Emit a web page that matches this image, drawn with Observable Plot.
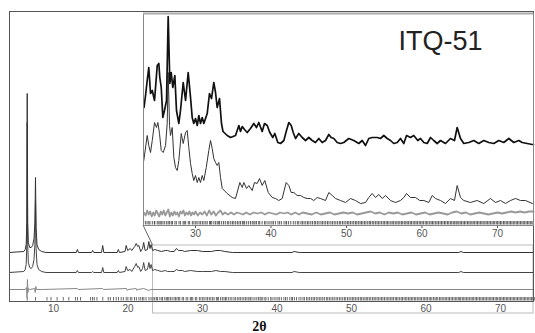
<!DOCTYPE html>
<html><head><meta charset="utf-8">
<script src="https://cdn.jsdelivr.net/npm/d3@7"></script>
<script src="https://cdn.jsdelivr.net/npm/@observablehq/plot@0.6"></script>
<style>
body{margin:0;background:#fff}
#wrap{position:relative;width:535px;height:333px;overflow:hidden;background:#fff}
#wrap svg{position:absolute;overflow:visible}
</style>
</head><body><div id="wrap"></div>
<script>
// ---- data (2θ, intensity) ----
const mainTicks = [10, 20, 30, 40, 50, 60, 70];
const insetTicks = [30, 40, 50, 60, 70];
const mainDomain = [4.09, 74.43];
const insetDomain = [23.11, 74.77];
const zoomRange = [23.36, 74.43];

const mainObs = [[4.09,0],[6.0,1],[6.2,3],[6.33,8],[6.42,30],[6.47,159],[6.53,30],[6.62,10],[6.8,5],[7.0,5],[7.2,7],[7.38,14],[7.5,30],[7.58,75],[7.66,25],[7.78,8],[8.0,3],[8.4,1],[9.0,0],[13.05,0],[13.2,3],[13.35,0],[15.1,0],[15.25,2],[15.4,0],[16.45,0],[16.6,7],[16.75,0],[18.55,0],[18.7,3],[18.85,0],[19.6,1],[19.75,7],[19.95,2],[20.3,4],[20.5,2],[20.9,6],[21.1,9],[21.3,6],[21.45,7],[21.7,1],[21.95,4],[22.1,10],[22.3,2],[22.6,3],[22.8,11],[22.95,4],[23.1,8],[23.3,2],[23.6,3],[24.0,2],[24.5,1],[25.0,2],[25.3,2],[25.7,1],[26.2,1],[26.5,4],[26.8,2],[27.3,2],[27.6,1],[28.4,2],[29.3,2],[30,1],[31.2,1],[31.8,2],[32.4,2],[33,1],[34,0],[42.0,0],[42.3,1],[43,0],[64.4,0],[64.7,1],[65,0],[74.43,0]];
const mainCalc = [[4.09,0],[6.0,1],[6.2,3],[6.33,8],[6.42,28],[6.47,150],[6.53,28],[6.62,10],[6.8,5],[7.0,4],[7.2,6],[7.38,13],[7.5,28],[7.58,72],[7.66,24],[7.78,8],[8.0,3],[8.4,1],[9.0,0],[13.05,0],[13.2,2],[13.35,0],[15.1,0],[15.25,1],[15.4,0],[16.45,0],[16.6,5],[16.75,0],[18.55,0],[18.7,2],[18.85,0],[19.6,1],[19.75,6],[19.95,2],[20.3,3],[20.5,1],[20.9,6],[21.1,9],[21.3,5],[21.45,6],[21.7,1],[21.95,4],[22.1,10],[22.3,2],[22.6,3],[22.8,10],[22.95,4],[23.1,8],[23.3,2],[23.6,3],[24.0,2],[24.5,1],[25.0,2],[25.3,1],[25.7,1],[26.2,1],[26.5,3],[26.8,2],[27.3,2],[27.6,1],[28.4,2],[29.3,1],[30,1],[31.2,1],[31.8,2],[32.4,1],[33,1],[34,0],[42.0,0],[42.3,1],[43,0],[64.4,0],[64.7,1],[65,0],[74.43,0]];
const mainDiff = [[4.09,0],[6.2,0],[6.38,2],[6.44,-8],[6.5,10],[6.56,-3],[6.65,1],[6.8,0],[7.45,1],[7.55,-3],[7.63,3],[7.72,0],[8.5,0],[13.2,1],[13.3,0],[16.6,1],[16.7,0],[19.8,1],[19.9,-1],[20,0],[21.1,1],[21.2,-1],[21.3,0],[22.1,1],[22.8,-1],[23,0],[74.43,0]];

const insetObs = [[23.18,36],[23.38,48],[23.60,63],[23.81,76],[24.04,50],[24.27,53],[24.57,43],[24.93,78],[25.14,80],[25.27,66],[25.46,56],[25.67,26],[25.89,33],[26.16,43],[26.38,127],[26.60,60],[26.78,71],[26.99,56],[27.26,68],[27.48,33],[27.79,20],[28.01,33],[28.37,61],[28.68,43],[29.03,71],[29.34,46],[29.56,26],[29.77,20],[30.00,25],[30.23,18],[30.44,28],[30.66,20],[30.89,26],[31.10,20],[31.55,30],[31.85,50],[32.12,45],[32.42,61],[32.65,51],[32.87,36],[33.18,45],[33.44,20],[33.64,12],[34.20,8],[34.64,6],[35.30,8],[35.74,18],[35.96,12],[36.19,17],[36.49,14],[36.85,11],[37.28,15],[37.72,20],[38.08,16],[38.38,21],[38.83,12],[39.14,20],[39.50,18],[39.84,11],[40.24,6],[40.50,10],[40.90,1],[41.26,0],[41.70,3],[42.05,13],[42.36,21],[42.68,18],[42.94,11],[43.25,5],[43.68,10],[44.13,6],[44.57,3],[45.01,6],[45.46,3],[45.89,1],[46.33,5],[46.78,1],[47.22,3],[47.66,9],[47.97,6],[48.32,5],[48.77,1],[49.21,0],[49.64,1],[50.30,5],[50.97,3],[51.63,0],[52.08,3],[52.52,-2],[52.95,5],[53.40,6],[54.07,6],[54.50,5],[54.94,8],[55.39,5],[55.83,3],[56.26,0],[56.72,1],[57.15,5],[57.59,0],[57.95,8],[58.48,6],[58.91,8],[59.44,3],[59.80,5],[60.24,1],[60.69,0],[61.13,6],[61.56,3],[62.01,0],[62.45,3],[63.11,0],[63.77,5],[64.30,3],[64.66,16],[65.10,5],[65.54,0],[66.20,1],[66.86,3],[67.52,0],[68.19,3],[68.85,1],[69.51,0],[70.17,3],[70.83,1],[71.50,5],[72.16,1],[72.82,3],[73.27,1],[73.93,0],[74.60,-1],[74.77,-1]];
const insetCalc = [[23.15,40],[23.60,65],[23.81,55],[24.04,48],[24.27,60],[24.57,78],[24.83,73],[25.01,78],[25.23,67],[25.46,50],[25.72,48],[26.03,55],[26.25,77],[26.38,128],[26.56,75],[26.69,65],[26.91,73],[27.13,43],[27.35,33],[27.58,30],[27.79,40],[28.11,67],[28.37,57],[28.68,68],[28.90,70],[29.11,53],[29.34,37],[29.56,27],[29.77,20],[30.00,25],[30.23,18],[30.44,23],[30.66,18],[30.89,25],[31.10,20],[31.42,33],[31.76,50],[31.99,60],[32.21,52],[32.42,42],[32.65,38],[32.87,35],[33.09,38],[33.31,23],[33.54,12],[34.20,7],[34.86,3],[35.30,2],[35.87,18],[36.19,13],[36.40,18],[36.76,12],[37.06,15],[37.51,10],[37.81,18],[38.17,17],[38.48,22],[38.83,15],[39.18,20],[39.63,8],[40.16,3],[40.60,2],[41.03,0],[41.48,2],[42.01,18],[42.36,15],[42.68,8],[43.02,8],[43.47,5],[43.91,5],[44.34,3],[44.79,2],[45.23,2],[45.67,0],[46.12,3],[46.56,2],[47.22,0],[47.66,8],[48.11,5],[48.54,2],[49.21,0],[49.87,-2],[50.53,2],[51.19,0],[51.85,-3],[52.52,-2],[52.95,3],[53.40,7],[53.84,3],[54.28,6],[54.73,2],[55.17,5],[55.83,0],[56.49,-2],[57.15,0],[57.59,3],[57.95,7],[58.48,3],[59.14,3],[59.71,0],[60.24,0],[60.90,-2],[61.35,5],[61.79,2],[62.45,0],[63.11,-3],[63.77,2],[64.30,0],[64.66,15],[65.10,3],[65.54,0],[66.42,-2],[67.31,0],[68.19,-3],[69.07,2],[69.74,-2],[70.40,0],[71.06,-3],[71.72,0],[72.38,2],[73.05,0],[73.71,0],[74.60,-3],[74.77,-3]];
const insetDiff = [[23.15,1],[23.4,-2],[23.6,3],[23.8,-1],[24.0,2],[24.2,-3],[24.4,1],[24.6,-2],[24.8,3],[25.0,0],[25.2,-3],[25.4,2],[25.6,-1],[25.8,3],[26.0,-2],[26.2,1],[26.4,4],[26.6,-3],[26.8,1],[27.0,-2],[27.2,2],[27.4,-1],[27.6,1],[27.8,-3],[28.0,2],[28.2,0],[28.4,3],[28.6,-2],[28.8,1],[29.0,-1],[29.2,2],[29.4,-2],[29.6,1],[29.8,-1],[30.0,2],[30.3,-2],[30.6,1],[30.9,-1],[31.2,2],[31.5,-2],[31.8,3],[32.1,-1],[32.4,2],[32.7,-2],[33.0,1],[33.3,3],[33.6,-1],[33.9,1],[34.3,-1],[34.7,1],[35.1,-1],[35.5,1],[35.9,0],[36.3,-1],[36.7,1],[37.2,-1],[37.7,1],[38.2,0],[38.7,1],[39.2,-1],[39.7,1],[40.2,0],[40.7,-1],[41.2,1],[41.7,0],[42.2,1],[42.7,-1],[43.2,1],[43.7,-1],[44.2,1],[44.8,0],[45.4,-1],[46.0,1],[46.6,-1],[47.2,0],[47.8,1],[48.4,-1],[49.0,0],[49.6,1],[50.2,0],[50.8,1],[51.4,-1],[52.0,0],[52.6,1],[53.2,2],[53.8,0],[54.4,1],[55.0,-1],[55.6,1],[56.2,0],[56.8,1],[57.4,-1],[58.0,0],[58.6,1],[59.2,-1],[59.8,0],[60.4,1],[61.0,-1],[61.6,0],[62.2,1],[62.8,0],[63.4,-1],[64.0,1],[64.6,2],[65.2,0],[65.8,1],[66.4,-1],[67.0,0],[67.6,1],[68.2,0],[68.8,-1],[69.4,0],[70.0,1],[70.6,0],[71.2,1],[71.8,2],[72.4,1],[73.0,2],[73.6,1],[74.2,2],[74.77,2]];

const reflections = [6.47,7.58,9.12,9.66,10.48,11.31,12.05,12.94,13.21,13.63,14.98,15.24,15.47,15.83,16.61,17.34,17.62,18.05,18.41,18.72,19.08,19.37,19.76,19.98,20.31,20.52,20.87,21.12,21.46,21.71,21.95,22.13,22.42,22.81,23.09,
23.36,23.58,23.81,23.97,24.28,24.55,24.61,24.93,25.14,25.31,25.47,25.69,25.92,26.18,26.38,26.57,26.79,26.95,27.27,27.46,27.81,28.02,28.36,28.51,28.69,29.04,29.22,29.58,29.79,30.03,30.21,30.47,30.68,30.91,31.12,31.36,31.55,31.86,31.99,32.15,32.43,32.66,32.88,33.07,33.19,33.46,33.71,33.94,34.22,34.41,34.67,34.89,35.08,35.32,
35.55,35.76,35.97,36.21,36.39,36.51,36.78,37.04,37.29,37.52,37.73,37.88,38.09,38.37,38.51,38.82,39.15,39.33,39.61,39.86,40.12,40.31,40.58,40.92,41.14,41.37,41.72,41.98,42.07,42.33,42.62,42.95,43.21,43.49,43.68,43.97,44.16,44.38,44.61,44.84,45.02,45.27,45.49,45.73,45.91,46.14,46.36,46.62,46.81,47.03,47.25,47.48,47.68,47.93,48.14,48.37,48.59,48.82,49.05,49.23,49.47,49.68,49.91,
50.12,50.31,50.52,50.74,50.95,51.18,51.36,51.57,51.79,51.98,52.17,52.39,52.58,52.81,53.02,53.19,53.42,53.61,53.83,54.04,54.22,54.43,54.65,54.86,55.04,55.26,55.44,55.63,55.87,56.05,56.24,56.46,56.67,56.85,57.06,57.27,57.44,57.66,57.85,58.04,58.23,58.44,58.62,58.83,59.04,59.22,59.41,59.63,59.82,60.01,60.19,60.42,60.61,60.79,61.02,61.21,61.39,61.58,61.81,61.99,62.18,62.39,62.58,62.77,62.98,63.16,63.37,63.55,63.76,63.94,64.14,64.33,64.52,64.66,64.87,65.06,65.24,65.45,65.63,65.82,66.03,66.21,66.39,66.6,66.78,66.97,67.18,67.36,67.55,67.74,67.93,68.11,68.32,68.5,68.69,68.88,69.06,69.27,69.45,69.63,69.84,70.02,70.21,70.4,70.58,70.79,70.97,71.16,71.35,71.54,71.73,71.91,72.1,72.29,72.48,72.66,72.85,73.04,73.23,73.41,73.6,73.79,73.98,74.16,74.35,74.54,74.72];

// ---- layout ----
const W = 535, H = 333;
const main = {left: 9, right: 533, top: 11, bottom: 301};
const ins = {left: 143, right: 533, top: 13, bottom: 225};
const mainOff = {obs: 49, calc: 29, diff: 12};
const insOff = {obs: 82, calc: 25, diff: 12};
const font = "'Liberation Sans', Arial, sans-serif";

const rows = (arr, off) => arr.map(([t, i]) => ({t, v: i + off}));
const wrap = document.getElementById("wrap");

const mainPlot = Plot.plot({
  width: W, height: H,
  marginLeft: main.left, marginRight: W - main.right, marginTop: main.top, marginBottom: H - main.bottom,
  style: {fontFamily: font, fontSize: "10px", color: "#555", background: "white"},
  x: {domain: mainDomain, ticks: mainTicks, tickSize: 0, tickPadding: 3, tickFormat: d3.format("d"), label: null},
  y: {domain: [0, main.bottom - main.top], axis: null},
  marks: [
    Plot.rect([zoomRange], {x1: d => d[0], x2: d => d[1], y1: -12, y2: 56, fill: "none", stroke: "#bbb", strokeWidth: 1}),
    Plot.ruleX(reflections, {x: d => d, y1: 0.5, y2: 4, stroke: "#444", strokeWidth: 0.8}),
    Plot.line(rows(mainDiff, mainOff.diff), {x: "t", y: "v", stroke: "#888", strokeWidth: 1}),
    Plot.line(rows(mainCalc, mainOff.calc), {x: "t", y: "v", stroke: "#444", strokeWidth: 1}),
    Plot.line(rows(mainObs, mainOff.obs), {x: "t", y: "v", stroke: "#333", strokeWidth: 1}),
    Plot.frame({stroke: "#555", strokeWidth: 1}),
    Plot.text(["2θ"], {frameAnchor: "bottom", dx: -12, dy: 20, lineAnchor: "top", fontWeight: "bold", fontSize: 14, fontFamily: "'Liberation Serif', 'Times New Roman', serif", fill: "#111"})
  ]
});
mainPlot.style.left = "0px"; mainPlot.style.top = "0px";
wrap.appendChild(mainPlot);

// connector from inset corner to zoom box
const mx = d3.scaleLinear(mainDomain, [main.left, main.right]);
const my = d3.scaleLinear([0, main.bottom - main.top], [main.bottom, main.top]);
d3.select(mainPlot).append("line")
  .attr("x1", ins.left).attr("y1", ins.bottom)
  .attr("x2", mx(zoomRange[0])).attr("y2", my(56))
  .attr("stroke", "#666").attr("stroke-width", 1);

const insetPlot = Plot.plot({
  width: W - ins.left, height: (ins.bottom - ins.top) + 18,
  marginLeft: 0, marginRight: W - ins.right, marginTop: 0, marginBottom: 18,
  style: {fontFamily: font, fontSize: "10px", color: "#555", background: "transparent"},
  x: {domain: insetDomain, ticks: insetTicks, tickSize: 3, tickPadding: 1, tickFormat: d3.format("d"), label: null},
  y: {domain: [0, ins.bottom - ins.top], axis: null},
  marks: [
    Plot.frame({fill: "white", stroke: "none"}),
    Plot.ruleX(reflections.filter(r => r >= insetDomain[0]), {x: d => d, y1: 0.5, y2: 4, stroke: "#333", strokeWidth: 0.8}),
    Plot.line(rows(insetDiff, insOff.diff), {x: "t", y: "v", stroke: "#999", strokeWidth: 1.8}),
    Plot.line(rows(insetCalc, insOff.calc), {x: "t", y: "v", stroke: "#333", strokeWidth: 1}),
    Plot.line(rows(insetObs, insOff.obs), {x: "t", y: "v", stroke: "#111", strokeWidth: 1.7}),
    Plot.frame({stroke: "#888", strokeWidth: 1}),
    Plot.ruleY([ins.bottom - ins.top], {stroke: "#aaa", strokeWidth: 2}),
    Plot.text(["ITQ-51"], {frameAnchor: "top-left", dx: 255, dy: 17, lineAnchor: "top", textAnchor: "start", fontSize: 27, fill: "#222"})
  ]
});
insetPlot.style.left = ins.left + "px"; insetPlot.style.top = ins.top + "px";
wrap.appendChild(insetPlot);
</script>
</body></html>
